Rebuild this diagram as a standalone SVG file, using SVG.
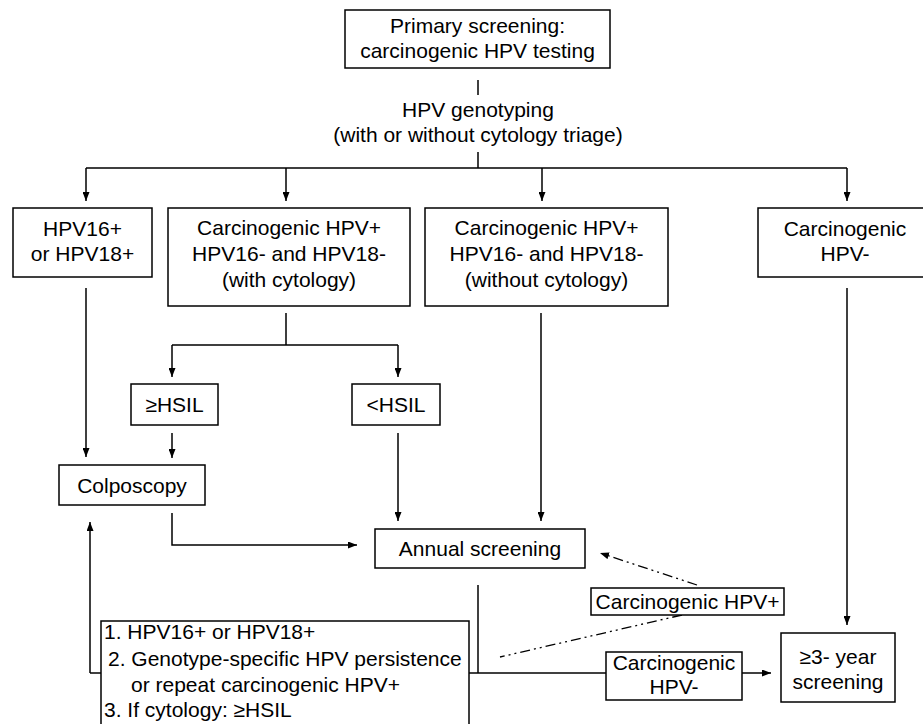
<svg xmlns="http://www.w3.org/2000/svg" width="923" height="724" viewBox="0 0 923 724">
<style>
rect{fill:#fff;stroke:#000;stroke-width:1.5}
text{font-family:"Liberation Sans",Arial,sans-serif;font-size:21px;fill:#000}
.c{text-anchor:middle}
.l{stroke:#000;stroke-width:1.5;fill:none}
.d{stroke:#000;stroke-width:1.3;fill:none;stroke-dasharray:10 4 2 4 2 4}
</style>
<defs>
<marker id="a" markerUnits="userSpaceOnUse" markerWidth="9" markerHeight="7" refX="9" refY="3.5" orient="auto"><path d="M0,0 L9,3.5 L0,7 z" fill="#000"/></marker>
</defs>
<rect x="0" y="0" width="923" height="724" style="fill:#fff;stroke:none"/>
<g id="connectors">
<path class="l" d="M478,80 V95"/>
<path class="l" d="M478,152 V168 M86,168 H847"/>
<path class="l" marker-end="url(#a)" d="M86,168 V201"/>
<path class="l" marker-end="url(#a)" d="M286,168 V201"/>
<path class="l" marker-end="url(#a)" d="M542,168 V201"/>
<path class="l" marker-end="url(#a)" d="M847,168 V201"/>
<path class="l" marker-end="url(#a)" d="M86,288 V457"/>
<path class="l" d="M286,313 V345 M172,345 H398"/>
<path class="l" marker-end="url(#a)" d="M172,345 V377"/>
<path class="l" marker-end="url(#a)" d="M398,345 V377"/>
<path class="l" marker-end="url(#a)" d="M172,433 V458"/>
<path class="l" marker-end="url(#a)" d="M398,433 V521"/>
<path class="l" marker-end="url(#a)" d="M541,313 V521"/>
<path class="l" marker-end="url(#a)" d="M847,288 V625"/>
<path class="l" marker-end="url(#a)" d="M172,513 V545 H357"/>
<path class="l" marker-end="url(#a)" d="M90,673 V522"/>
<path class="l" d="M90,673 H606"/>
<path class="l" marker-end="url(#a)" d="M742,673 H771"/>
<path class="l" d="M478,585 V673"/>
<path class="d" marker-end="url(#a)" d="M697,585 L600,553"/>
<path class="d" d="M682,615 L500,657"/>
</g>
<g id="primary"><rect x="345" y="10" width="265" height="58"/><text class="c" x="477.5" y="33">Primary screening:</text><text class="c" x="477.5" y="58">carcinogenic HPV testing</text></g>
<g id="genotyping"><text class="c" x="478" y="117">HPV genotyping</text><text class="c" x="478" y="142">(with or without cytology triage)</text></g>
<g id="hpv1618"><rect x="13" y="208" width="139" height="69"/><text class="c" x="82.5" y="236">HPV16+</text><text class="c" x="82.5" y="261">or HPV18+</text></g>
<g id="withcyto"><rect x="168" y="208" width="242" height="98"/><text class="c" x="289" y="235">Carcinogenic HPV+</text><text class="c" x="289" y="261">HPV16- and HPV18-</text><text class="c" x="289" y="287">(with cytology)</text></g>
<g id="withoutcyto"><rect x="425" y="208" width="243" height="98"/><text class="c" x="546.5" y="235">Carcinogenic HPV+</text><text class="c" x="546.5" y="261">HPV16- and HPV18-</text><text class="c" x="546.5" y="287">(without cytology)</text></g>
<g id="hpvneg"><rect x="758" y="208" width="170" height="69"/><text class="c" x="845" y="236">Carcinogenic</text><text class="c" x="845" y="261">HPV-</text></g>
<g id="hsilhigh"><rect x="131" y="384" width="87" height="41"/><text class="c" x="174.5" y="412">≥HSIL</text></g>
<g id="hsillow"><rect x="352" y="384" width="88" height="41"/><text class="c" x="396" y="412">&lt;HSIL</text></g>
<g id="colposcopy"><rect x="59" y="465" width="146" height="40"/><text class="c" x="132" y="493">Colposcopy</text></g>
<g id="annual"><rect x="375" y="529" width="210" height="39"/><text class="c" x="480" y="556">Annual screening</text></g>
<g id="carcpos"><rect x="591" y="588" width="193" height="27"/><text class="c" x="687.5" y="609">Carcinogenic HPV+</text></g>
<g id="criteria"><rect x="101" y="621" width="368" height="110"/>
<text x="104" y="639">1. HPV16+ or HPV18+</text>
<text x="108" y="666">2. Genotype-specific HPV persistence</text>
<text x="131" y="692">or repeat carcinogenic HPV+</text>
<text x="104" y="717">3. If cytology: ≥HSIL</text></g>
<g id="carcneg"><rect x="606" y="652" width="136" height="48"/><text class="c" x="674" y="670">Carcinogenic</text><text class="c" x="674" y="694">HPV-</text></g>
<g id="threeyear"><rect x="781" y="633" width="114" height="69"/><text class="c" x="838" y="664">≥3- year</text><text class="c" x="838" y="689">screening</text></g>
</svg>
